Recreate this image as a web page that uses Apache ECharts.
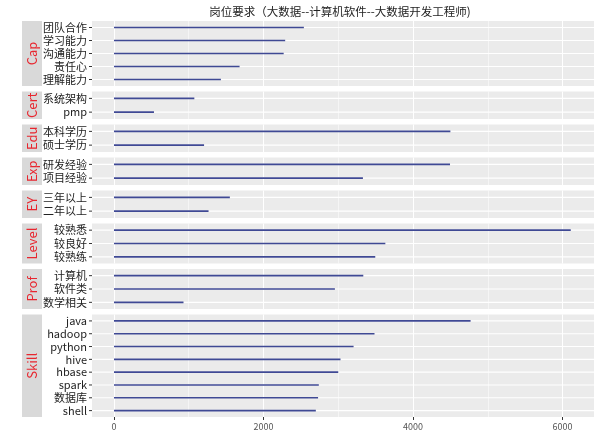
<!DOCTYPE html>
<html>
<head>
<meta charset="utf-8">
<script src="https://cdn.jsdelivr.net/npm/echarts@6/dist/echarts.min.js"></script>
<style>html,body{margin:0;padding:0;background:#fff}#c{width:600px;height:441px}</style>
</head>
<body>
<div id="c"></div>
<script>
const titleText = '岗位要求（大数据--计算机软件--大数据开发工程师)';
const facets = ['Cap', 'Cert', 'Edu', 'Exp', 'EY', 'Level', 'Prof', 'Skill'];
const capLabels = ['团队合作', '学习能力', '沟通能力', '责任心', '理解能力'];
const capValues = [2540, 2290, 2270, 1680, 1430];
const certLabels = ['系统架构', 'pmp'];
const certValues = [1075, 535];
const eduLabels = ['本科学历', '硕士学历'];
const eduValues = [4500, 1205];
const expLabels = ['研发经验', '项目经验'];
const expValues = [4495, 3330];
const eyLabels = ['三年以上', '二年以上'];
const eyValues = [1550, 1265];
const levelLabels = ['较熟悉', '较良好', '较熟练'];
const levelValues = [6110, 3630, 3495];
const profLabels = ['计算机', '软件类', '数学相关'];
const profValues = [3335, 2955, 930];
const skillLabels = ['java', 'hadoop', 'python', 'hive', 'hbase', 'spark', '数据库', 'shell'];
const skillValues = [4770, 3485, 3205, 3030, 3000, 2740, 2730, 2700];
const xTicks = [0, 2000, 4000, 6000];
const xMinor = [1000, 3000, 5000];
const xMin = -294, xMax = 6421;

const labelSets = [capLabels, certLabels, eduLabels, expLabels, eyLabels, levelLabels, profLabels, skillLabels];
const valueSets = [capValues, certValues, eduValues, expValues, eyValues, levelValues, profValues, skillValues];

const FONT = '"Noto Sans CJK SC", "Noto Sans", sans-serif';
const U = 12.5, GAP = 5.5, TOP0 = 21, LEFT = 92, RIGHT = 6;
const grids = [], xAxes = [], yAxes = [], series = [], graphics = [];
let panelTop = TOP0;

function rowGrid(params, api) {
  const cs = params.coordSys;
  const y = api.coord([0, api.value(1)])[1];
  return {
    type: 'group', children: [
      {type: 'line', shape: {x1: cs.x, y1: y, x2: cs.x + cs.width, y2: y}, style: {stroke: '#ffffff', lineWidth: 1.1}},
      {type: 'line', shape: {x1: cs.x - 3, y1: y, x2: cs.x, y2: y}, style: {stroke: '#333333', lineWidth: 1}}
    ]
  };
}

facets.forEach((f, i) => {
  const n = labelSets[i].length;
  const h = (n + 0.2) * U;
  const last = i === facets.length - 1;
  grids.push({left: LEFT, right: RIGHT, top: panelTop, height: h, show: true, backgroundColor: '#EBEBEB', borderWidth: 0});
  xAxes.push({
    type: 'value', gridIndex: i, min: xMin, max: xMax,
    axisLine: {show: false, onZero: false}, splitLine: {show: false},
    axisTick: {show: last, customValues: xTicks, length: 3, lineStyle: {color: '#333', width: 1}},
    axisLabel: {show: last, customValues: xTicks, fontSize: 9, color: '#555', margin: 5, fontFamily: FONT,
      formatter: v => String(v)}
  });
  yAxes.push({
    type: 'category', gridIndex: i, data: labelSets[i], inverse: true,
    axisLine: {show: false, onZero: false}, splitLine: {show: false},
    axisTick: {show: false},
    axisLabel: {interval: 0, fontSize: 11, color: '#222', margin: 5, fontFamily: FONT}
  });
  const ml = [];
  xMinor.forEach(v => ml.push({xAxis: v, lineStyle: {width: 0.5}}));
  xTicks.forEach(v => ml.push({xAxis: v, lineStyle: {width: 1.1}}));
  series.push({
    type: 'custom', xAxisIndex: i, yAxisIndex: i, z: 1, silent: true, clip: false,
    data: labelSets[i].map(l => [0, l]), renderItem: rowGrid,
    markLine: {silent: true, symbol: 'none', animation: false, label: {show: false},
      lineStyle: {color: '#ffffff', type: 'solid', opacity: 1}, data: ml}
  });
  series.push({
    type: 'bar', xAxisIndex: i, yAxisIndex: i, data: valueSets[i], z: 5,
    barWidth: 1.6, itemStyle: {color: '#3f4994'}, silent: true, animation: false
  });
  graphics.push({
    type: 'group', left: 22, top: panelTop, children: [
      {type: 'rect', shape: {x: 0, y: 0, width: 20, height: h}, style: {fill: '#D9D9D9'}},
      {type: 'text', x: 10, y: h / 2, rotation: Math.PI / 2,
        style: {text: f, fill: '#e8262f', fontSize: 13, fontFamily: FONT, align: 'center', verticalAlign: 'middle'}}
    ]
  });
  panelTop += h + GAP;
});
graphics.push({type: 'text', x: 340, y: 12,
  style: {text: titleText, fill: '#222', fontSize: 11.5, fontFamily: FONT, align: 'center', verticalAlign: 'middle'}});

const chart = echarts.init(document.getElementById('c'), null, {renderer: 'canvas'});
chart.setOption({
  animation: false,
  grid: grids, xAxis: xAxes, yAxis: yAxes, series: series, graphic: graphics
});
</script>
</body>
</html>
